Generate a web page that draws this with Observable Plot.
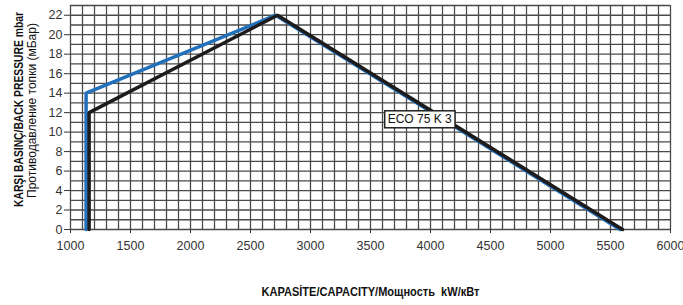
<!DOCTYPE html>
<html><head><meta charset="utf-8">
<script src="https://cdn.jsdelivr.net/npm/d3@7"></script>
<script src="https://cdn.jsdelivr.net/npm/@observablehq/plot@0.6"></script>
<style>
body{margin:0;background:#fff}
#chart svg{font-family:"Liberation Sans", Arial, sans-serif}
</style>
</head><body><div id="chart"></div>
<script>
// ECO 75 K 3 working range (capacity kW, back pressure mbar)
const blueCapacity = [1130, 1130, 2710, 5580];
const bluePressure = [0, 14, 22, 0];
const blackCapacity = [1155, 1155, 2725, 5600];
const blackPressure = [0, 12, 22, 0];
const xTicks = [1000, 1500, 2000, 2500, 3000, 3500, 4000, 4500, 5000, 5500, 6000];
const yTicks = [0, 2, 4, 6, 8, 10, 12, 14, 16, 18, 20, 22];
const seriesLabel = "ECO 75 K 3";
const labelCapacity = 3910;
const labelPressure = 11.3;
const yTitle1 = "KARŞI BASINÇ/BACK PRESSURE mbar";
const yTitle2 = "Противодавление топки (мБар)";
const xTitle = "KAPASİTE/CAPACITY/Мощность  kW/кВт";

const blue = blueCapacity.map((c, i) => ({c, p: bluePressure[i]}));
const black = blackCapacity.map((c, i) => ({c, p: blackPressure[i]}));
const gridX = d3.range(1000, 6001, 100);
const gridY = d3.range(0, 24, 1);

const plot = Plot.plot({
  width: 683, height: 305,
  marginLeft: 70, marginRight: 13, marginTop: 5, marginBottom: 76,
  x: {domain: [1000, 6000], ticks: xTicks, tickFormat: d3.format("d"), tickSize: 4, tickPadding: 8, label: null},
  y: {domain: [0, 23], ticks: yTicks, tickSize: 6, tickPadding: 2, label: null},
  style: {fontSize: "12.5px", color: "#333"},
  marks: [
    Plot.ruleX(gridX, {stroke: "#4a4a4a", strokeWidth: 1.3}),
    Plot.ruleY(gridY, {stroke: "#4a4a4a", strokeWidth: 1.3}),
    Plot.line(blue, {x: "c", y: "p", stroke: "#2270bb", strokeWidth: 3.5, strokeLinejoin: "miter"}),
    Plot.line(black, {x: "c", y: "p", stroke: "#1d1b1c", strokeWidth: 3.5, strokeLinejoin: "miter"}),
    Plot.text([seriesLabel], {x: labelCapacity, y: labelPressure, text: d => d, fill: "#111", fontSize: 12}),
    Plot.text([yTitle1], {frameAnchor: "left", textAnchor: "middle", dx: -52, dy: -8, rotate: -90, text: d => d, fontWeight: "bold", fontSize: 13, fill: "#111"}),
    Plot.text([yTitle2], {frameAnchor: "left", textAnchor: "middle", dx: -39, dy: -7, rotate: -90, text: d => d, fontSize: 12.5, fill: "#111"}),
    Plot.text([xTitle], {frameAnchor: "bottom", textAnchor: "middle", dy: 66, text: d => d, fontWeight: "bold", fontSize: 13, fill: "#111"})
  ]
});
document.getElementById("chart").append(plot);
const svg = d3.select(plot);
const fit = {[yTitle1]: 195, [yTitle2]: 175, [xTitle]: 218};
svg.selectAll("text").each(function() {
  const t = this.textContent;
  if (fit[t]) {
    d3.select(this).attr("textLength", fit[t]).attr("lengthAdjust", "spacingAndGlyphs");
  }
  if (t === seriesLabel) {
    const b = this.getBBox();
    const tr = this.getAttribute("transform");
    const r = d3.select(this.parentNode).insert("rect", "text")
      .attr("x", b.x - 3).attr("y", b.y - 1.5)
      .attr("width", b.width + 6).attr("height", b.height + 3)
      .attr("fill", "#fff").attr("stroke", "#222").attr("stroke-width", 1.5);
    if (tr) r.attr("transform", tr);
  }
});
</script>
</body></html>
